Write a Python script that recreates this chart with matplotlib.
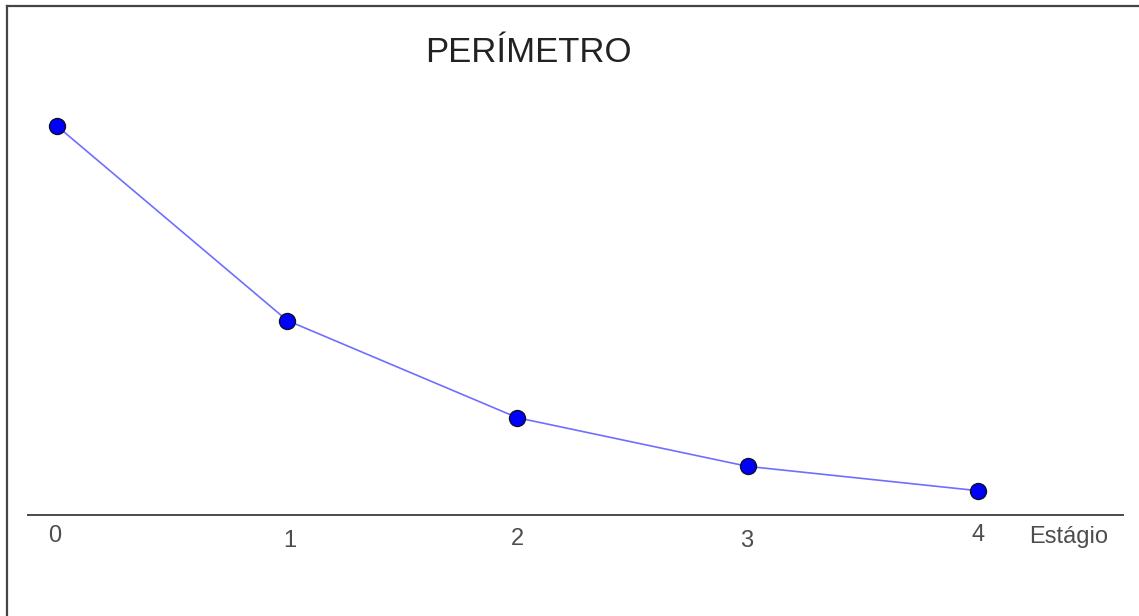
import matplotlib
matplotlib.use("Agg")
import matplotlib.pyplot as plt
from matplotlib.lines import Line2D

plt.rcParams['font.family'] = ['Liberation Sans', 'DejaVu Sans']

# data ------------------------------------------------------------------------
stages = [0, 1, 2, 3, 4]
perimeter = [16, 8, 4, 2, 1]
tick_labels = ['0', '1', '2', '3', '4']
title = 'PERÍMETRO'
xlabel = 'Estágio'

# figure ----------------------------------------------------------------------
W, H = 1139, 616
fig = plt.figure(figsize=(W / 100, H / 100), dpi=100)
ax = fig.add_axes([0, 0, 1, 1])
ax.set_axis_off()

# pixel mapping: x=0 -> 57px, x=4 -> 978px ; y=0 -> 515px, y=16 -> 126px
px_x = (978 - 57) / 4
px_y = (515 - 126) / 16
ax.set_xlim(-57 / px_x, (W - 57) / px_x)
ax.set_ylim(-(H - 515) / px_y, 515 / px_y)

# horizontal axis line
ax.plot([(27 - 57) / px_x, (1124 - 57) / px_x], [0, 0], color='#4a4a4a', lw=1.4,
        solid_capstyle='butt')

# series
ax.plot(stages, perimeter, color='#6f6fff', lw=1.2, zorder=2)
ax.plot(stages, perimeter, ls='none', marker='o', markersize=11.5,
        markerfacecolor='#0000ff', markeredgecolor='#10102a', markeredgewidth=1.0, zorder=3)

# tick labels
offsets = [(-2, -21), (3, -26), (0, -24), (-1, -26), (0, -20)]
for x, lab, (dx, dy) in zip(stages, tick_labels, offsets):
    ax.annotate(lab, (x, 0), xytext=(dx, dy), textcoords='offset pixels',
                ha='center', va='center', fontsize=17, color='#4d4d4d')

ax.annotate(xlabel, (stages[-1], 0), xytext=(1029 - 978, -22), textcoords='offset pixels',
            ha='left', va='center', fontsize=17, color='#4d4d4d')

# title
fig.text(528 / W, 1 - 52 / H, title, ha='center', va='center', fontsize=25, color='#222222')

# frame (top and left edges)
fig.add_artist(Line2D([7 / W, 1], [1 - 6 / H, 1 - 6 / H], transform=fig.transFigure,
                      color='#444444', lw=1.6))
fig.add_artist(Line2D([7 / W, 7 / W], [0, 1 - 6 / H], transform=fig.transFigure,
                      color='#444444', lw=1.6))

fig.savefig('out.png', dpi=100)
